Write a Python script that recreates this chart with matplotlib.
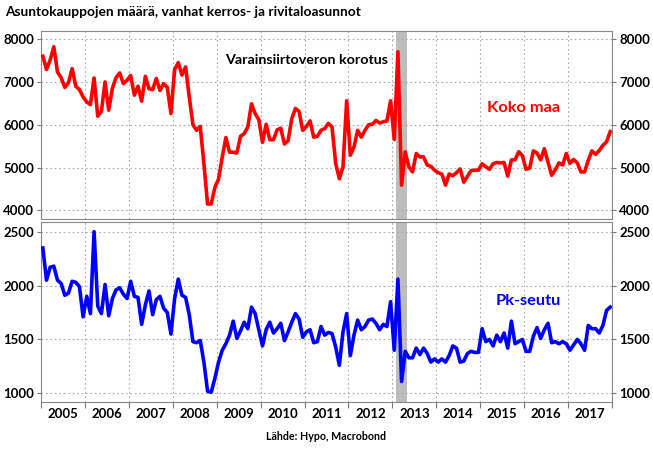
import numpy as np
import matplotlib.pyplot as plt

# Kuukausidata tammikuu 2005 - joulukuu 2017
koko_maa = [
    7600, 7290, 7510, 7820, 7230, 7100, 6870, 6980, 7310, 6900, 6820, 6650,
    6530, 6470, 7090, 6200, 6310, 7000, 6340, 6850, 7100, 7210, 6960, 7040,
    7150, 6690, 6900, 6550, 7130, 6840, 6820, 7080, 6800, 6960, 6870, 6260,
    7290, 7450, 7160, 7350, 6650, 6000, 5870, 5960, 5090, 4150, 4150, 4540,
    4730, 5240, 5700, 5360, 5360, 5340, 5730, 5790, 5950, 6490, 6260, 6120,
    5590, 6010, 5650, 5650, 5880, 5920, 5550, 5630, 6140, 6380, 6310, 5870,
    5960, 6090, 5710, 5730, 5870, 5910, 6030, 5950, 5100, 4740, 5016, 6560,
    5290, 5480, 5870, 5710, 5870, 6000, 6010, 6100, 6040, 6070, 6090, 6558,
    5657, 7703, 4590, 5367, 5016, 4900, 5330, 5250, 5250, 5060, 5030, 4940,
    4880, 4850, 4590, 4850, 4810, 4880, 4970, 4660, 4800, 4930, 4940, 4940,
    5090, 5020, 4960, 5090, 5120, 5110, 5120, 4800, 5180, 5180, 5370, 5280,
    4960, 4990, 5390, 5340, 5180, 5440, 5130, 4820, 4950, 5110, 5060, 5330,
    5100, 5190, 5110, 4900, 4900, 5170, 5390, 5310, 5400, 5520, 5600, 5840,
]
pk_seutu = [
    2349, 2050, 2170, 2180, 2050, 2020, 1910, 1930, 2040, 2030, 1990, 1710,
    1900, 1740, 2500, 1810, 1740, 2010, 1720, 1880, 1960, 1980, 1920, 1880,
    2040, 1900, 1890, 1640, 1820, 1950, 1730, 1870, 1900, 1790, 1750, 1550,
    1880, 2060, 1910, 1890, 1730, 1480, 1470, 1490, 1290, 1020, 1010, 1140,
    1290, 1400, 1460, 1540, 1670, 1510, 1580, 1660, 1600, 1800, 1740, 1590,
    1440, 1590, 1660, 1560, 1600, 1650, 1490, 1570, 1660, 1740, 1690, 1520,
    1570, 1590, 1470, 1480, 1620, 1540, 1565, 1555, 1430, 1260, 1570, 1740,
    1350, 1540, 1680, 1590, 1620, 1680, 1690, 1650, 1590, 1640, 1620, 1850,
    1400, 2060, 1110, 1390, 1330, 1330, 1420, 1360, 1420, 1370, 1290, 1320,
    1290, 1320, 1290, 1350, 1440, 1420, 1290, 1300, 1370, 1390, 1380, 1380,
    1600, 1480, 1500, 1440, 1540, 1480, 1560, 1420, 1670, 1460, 1480, 1500,
    1390, 1390, 1530, 1610, 1510, 1590, 1650, 1470, 1480, 1460, 1480, 1460,
    1400, 1450, 1500, 1460, 1400, 1630, 1600, 1600, 1560, 1630, 1770, 1800,
]
vuodet = list(range(2005, 2018))

x = 2005 + (np.arange(len(koko_maa)) + 0.5) / 12
fnt = 'Lato'

fig = plt.figure(figsize=(6.53, 4.5), dpi=100)
ax1 = fig.add_axes([0.0628, 0.5133, 0.8745, 0.418])
ax2 = fig.add_axes([0.0628, 0.1067, 0.8745, 0.4])

for ax, data, color, lim, ticks in [
        (ax1, koko_maa, '#ff0000', (3800, 8190), [4000, 5000, 6000, 7000, 8000]),
        (ax2, pk_seutu, '#0000ff', (920, 2590), [1000, 1500, 2000, 2500])]:
    # varainsiirtoveron korotus, helmi-huhtikuu 2013
    ax.axvspan(2013 + 1 / 12, 2013 + 4 / 12, color='#bdbdbd', lw=0, zorder=1)
    ax.plot(x, data, color=color, lw=2.6, zorder=3, solid_joinstyle='round')
    ax.set_xlim(2005, 2018)
    ax.set_ylim(*lim)
    ax.set_yticks(ticks)
    ax.set_xticks(range(2005, 2019))
    ax.grid(True, color='#aaaaaa', ls=(0, (1.5, 2.5)), lw=0.8, zorder=0)
    ax.tick_params(axis='y', left=True, right=True, labelleft=True, labelright=True,
                   length=3, color='#777777', pad=2)
    ax.tick_params(axis='x', length=4, color='#777777')
    for s in ax.spines.values():
        s.set_color('#888888')
    for lab in ax.get_yticklabels():
        lab.set_fontweight('bold')
        lab.set_fontfamily(fnt)
        lab.set_fontsize(9.5)

ax1.tick_params(axis='x', labelbottom=False, length=0)
ax2.set_xticklabels([])
ax2.set_xticks([v + 0.5 for v in vuodet], minor=True)
ax2.set_xticklabels([str(v) for v in vuodet], minor=True, fontweight='bold',
                    fontfamily=fnt, fontsize=9.5)
ax2.tick_params(axis='x', which='minor', length=0, pad=4)

ax1.text(2011.04, 7500, 'Varainsiirtoveron korotus', ha='center', va='center',
         fontsize=10.3, fontweight='bold', family=fnt)
ax1.text(2015.99, 6390, 'Koko maa', ha='center', va='center', color='#ff0000',
         fontsize=11.8, fontweight='bold', family=fnt)
ax2.text(2016.09, 1860, 'Pk-seutu', ha='center', va='center', color='#0000ff',
         fontsize=11.8, fontweight='bold', family=fnt)

fig.text(0.008, 0.973, 'Asuntokauppojen määrä, vanhat kerros- ja rivitaloasunnot',
         ha='left', va='center', fontsize=9.9, fontweight='bold', family=fnt)
fig.text(0.5, 0.029, 'Lähde: Hypo, Macrobond', ha='center', va='center',
         fontsize=7.7, fontweight='bold', family=fnt)

plt.savefig('out.png', dpi=100)
